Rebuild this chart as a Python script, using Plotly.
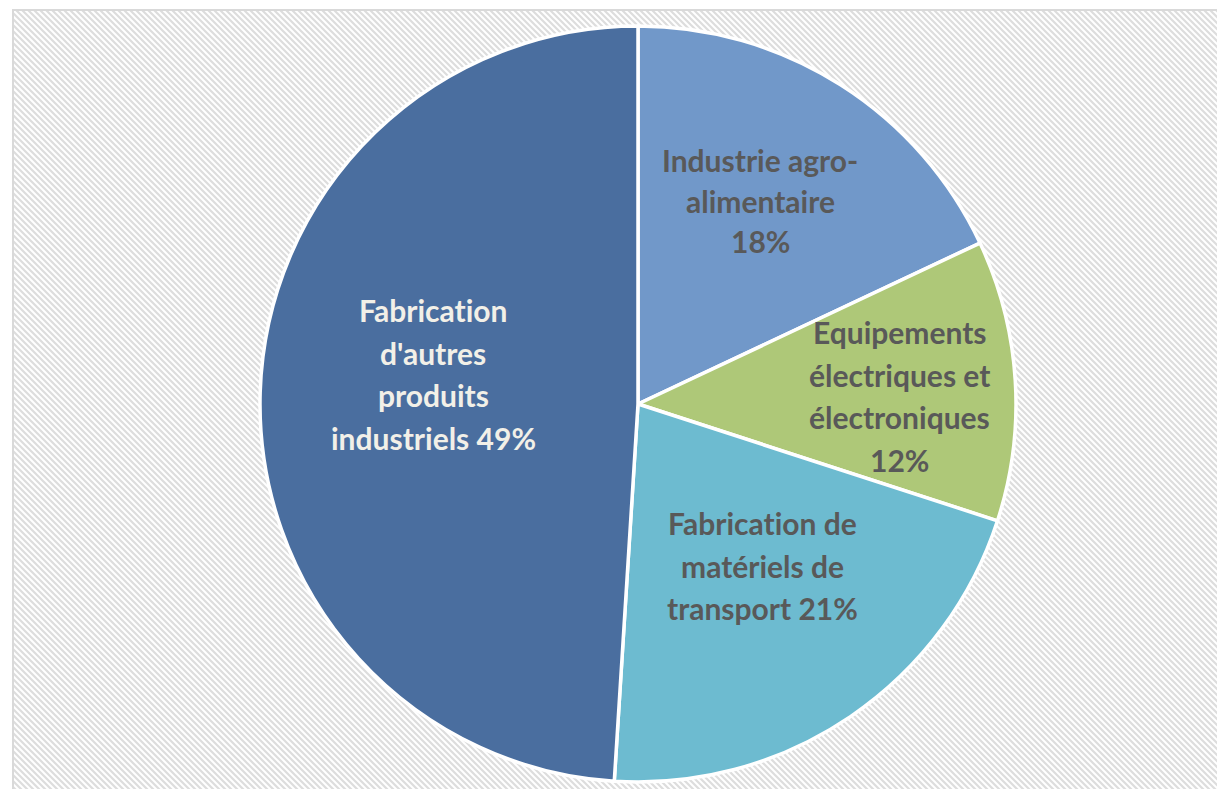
import base64
import plotly.graph_objects as go

# Data
categories = [
    "Industrie agro-alimentaire",
    "Equipements électriques et électroniques",
    "Fabrication de matériels de transport",
    "Fabrication d'autres produits industriels",
]
values = [18, 12, 21, 49]
colors = ["#7198C9", "#AEC878", "#6DBBD0", "#4A6E9F"]

ZW = "\u200c"  # zero-width non-joiner, keeps "ti" from becoming a ligature
label_lines = [
    ["Industrie agro-", "alimentaire", "18%"],
    ["Equipements", "électriques et", "électroniques", "12%"],
    [f"Fabricat{ZW}ion de", "matériels de", "transport 21%"],
    [f"Fabricat{ZW}ion", "d'autres", "produits", "industriels 49%"],
]

# The page adds an 8px body margin, so work in page pixels and shift by OFF.
OFF = 8
PW, PH = 1225, 789
W, H = PW - OFF, PH - OFF


def px(x):
    return (x - OFF) / W


def py(y):
    return 1 - (y - OFF) / H


svg = f'''<svg xmlns="http://www.w3.org/2000/svg" width="{W}" height="{H}">
<defs><pattern id="p" width="6" height="6" patternUnits="userSpaceOnUse">
<rect width="6" height="6" fill="white"/>
<path d="M-1,-1 L7,7 M-4,2 L2,8 M2,-4 L8,2" stroke="#DDDDDD" stroke-width="2.2"/>
</pattern></defs>
<rect x="0" y="0" width="{W}" height="{H}" fill="white"/>
<rect x="5" y="2" width="{W}" height="{H}" fill="url(#p)"/>
<path d="M5,{H} L5,2 L{W},2" fill="none" stroke="#D9D9D9" stroke-width="2"/>
</svg>'''
src = "data:image/svg+xml;base64," + base64.b64encode(svg.encode()).decode()

cx, cy, r = 638, 404, 378

fig = go.Figure(go.Pie(
    labels=categories,
    values=values,
    sort=False,
    direction="clockwise",
    rotation=0,
    marker=dict(colors=colors, line=dict(color="white", width=3.5)),
    textinfo="none",
    hoverinfo="label+percent",
    showlegend=False,
    domain=dict(x=[px(cx - r), px(cx + r)], y=[py(cy + r), py(cy - r)]),
))

label_pos = [(760, 160, 40.5), (900, 332, 42.5), (763, 523, 42.5), (433, 310, 42.5)]
text_colors = ["#595959", "#595959", "#595959", "#F2F0E8"]

annotations = []
for lines, (x, y0, step), col in zip(label_lines, label_pos, text_colors):
    for i, t in enumerate(lines):
        annotations.append(dict(
            text=t, x=px(x), y=py(y0 + i * step), xref="paper", yref="paper",
            showarrow=False, xanchor="center", yanchor="middle",
            font=dict(family="Lato", size=30, color=col, weight="bold"),
        ))

fig.update_layout(
    width=W, height=H,
    margin=dict(l=0, r=0, t=0, b=0),
    paper_bgcolor="white",
    plot_bgcolor="rgba(0,0,0,0)",
    images=[dict(source=src, xref="paper", yref="paper", x=0, y=1, sizex=1, sizey=1,
                 xanchor="left", yanchor="top", sizing="stretch", layer="below")],
    annotations=annotations,
)

fig.write_html("out.html")
